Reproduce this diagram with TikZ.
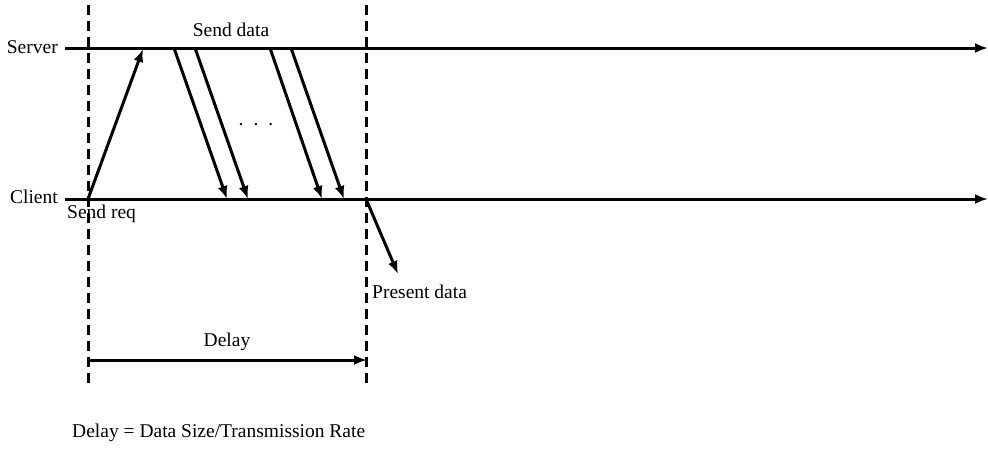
\documentclass[tikz,border=0pt]{standalone}
\usepackage{fontspec}
\setmainfont{Liberation Serif}
\usetikzlibrary{arrows.meta}
\begin{document}
\begin{tikzpicture}[x=1pt,y=-1pt,
  arr/.style={line width=3pt,-{Latex[length=13pt,width=10pt]}},
  vdash/.style={line width=3pt,dash pattern=on 10pt off 6pt},
  lbl/.style={font=\fontsize{19.5}{23}\selectfont,inner sep=0pt}]
\useasboundingbox (0,0) rectangle (988,459);
% axes
\coordinate (s0) at (65,48); \coordinate (s1) at (988,48);
\coordinate (c0) at (65,199); \coordinate (c1) at (988,199);
\draw[arr] (s0) -- (s1);
\draw[arr] (c0) -- (c1);
\node[lbl,anchor=east] (server) at (58,47) {Server};
\node[lbl,anchor=east] (client) at (58,197) {Client};
% dashed verticals
\coordinate (d1t) at (88,5); \coordinate (d1b) at (88,389);
\coordinate (d2t) at (366,5); \coordinate (d2b) at (366,389);
\draw[vdash] (d1t) -- (d1b);
\draw[vdash] (d2t) -- (d2b);
% request
\coordinate (r0) at (88,199); \coordinate (r1) at (143,49);
\draw[arr] (r0) -- (r1);
\node[lbl,anchor=north west] (sendreq) at (67,205) {Send req};
% data
\coordinate (a0) at (174,48); \coordinate (a1) at (227,199);
\coordinate (b0) at (195,48); \coordinate (b1) at (248,199);
\coordinate (e0) at (270,48); \coordinate (e1) at (322,199);
\coordinate (f0) at (291,48); \coordinate (f1) at (344,199);
\draw[arr] (a0) -- (a1);
\draw[arr] (b0) -- (b1);
\draw[arr] (e0) -- (e1);
\draw[arr] (f0) -- (f1);
\node[lbl] (senddata) at (231,30) {Send data};
\node[lbl] (dots) at (256,125) {.\hspace{10pt}.\hspace{10pt}.};
% present
\coordinate (p0) at (366,199); \coordinate (p1) at (398,274);
\draw[arr] (p0) -- (p1);
\node[lbl,anchor=west] (present) at (372,292) {Present data};
% delay
\coordinate (dl0) at (88,360); \coordinate (dl1) at (367,360);
\draw[arr] (dl0) -- (dl1);
\node[lbl] (delay) at (227,342) {Delay};
\node[lbl,anchor=west] (formula) at (72,433) {Delay = Data Size/Transmission Rate};
\end{tikzpicture}
\end{document}
